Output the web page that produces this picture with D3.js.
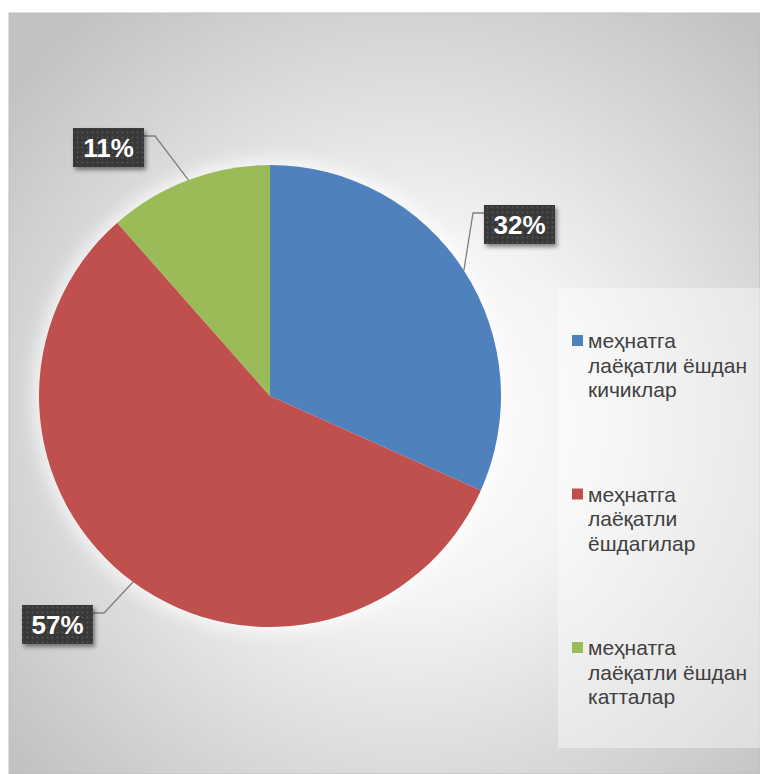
<!DOCTYPE html>
<html>
<head>
<meta charset="utf-8">
<script src="https://cdn.jsdelivr.net/npm/d3@7"></script>
<style>
  html, body { margin: 0; padding: 0; background: #ffffff; }
  svg { display: block; }
</style>
</head>
<body>
<div id="chart"></div>
<script>
// values (share of each group)
var categories = [
  ['меҳнатга', 'лаёқатли ёшдан', 'кичиклар'],
  ['меҳнатга', 'лаёқатли', 'ёшдагилар'],
  ['меҳнатга', 'лаёқатли ёшдан', 'катталар']
];
var values = [31.7, 56.8, 11.5];
var labels = ['32%', '57%', '11%'];
var colors = ['#4f81bd', '#c0504d', '#9bbb59'];

(function () {
  var W = 760, H = 774;
  var CX = 270, CY = 396, R = 231;

  var svg = d3.select('#chart').append('svg')
    .attr('width', W).attr('height', H)
    .style('font-family', '"Liberation Sans", Arial, sans-serif');

  var defs = svg.append('defs');

  var bg = defs.append('radialGradient').attr('id', 'bg')
    .attr('gradientUnits', 'userSpaceOnUse')
    .attr('cx', 410).attr('cy', 420).attr('r', 520);
  bg.append('stop').attr('offset', '0').attr('stop-color', '#ffffff');
  bg.append('stop').attr('offset', '0.35').attr('stop-color', '#f4f4f4');
  bg.append('stop').attr('offset', '1').attr('stop-color', '#c2c2c2');

  var dots = defs.append('pattern').attr('id', 'dots')
    .attr('patternUnits', 'userSpaceOnUse').attr('width', 5).attr('height', 5);
  dots.append('rect').attr('width', 5).attr('height', 5).attr('fill', '#393939');
  dots.append('circle').attr('cx', 2.5).attr('cy', 2.5).attr('r', 0.9).attr('fill', '#555555');

  var sh = defs.append('filter').attr('id', 'shadow')
    .attr('x', '-20%').attr('y', '-20%').attr('width', '150%').attr('height', '160%');
  sh.append('feDropShadow').attr('dx', 2).attr('dy', 3).attr('stdDeviation', 2)
    .attr('flood-color', '#000').attr('flood-opacity', 0.45);

  var glow = defs.append('filter').attr('id', 'glow')
    .attr('x', '-20%').attr('y', '-20%').attr('width', '140%').attr('height', '140%');
  glow.append('feGaussianBlur').attr('stdDeviation', 8);

  // chart area
  svg.append('rect')
    .attr('x', 9).attr('y', 13).attr('width', W - 9).attr('height', H - 13)
    .attr('fill', 'url(#bg)')
    .attr('stroke', '#bdbdbd').attr('stroke-width', 1);

  // soft halo behind pie
  svg.append('circle')
    .attr('cx', CX).attr('cy', CY).attr('r', R + 6)
    .attr('fill', '#ffffff').attr('opacity', 0.7)
    .attr('filter', 'url(#glow)');

  var pie = d3.pie().sort(null).value(function (d) { return d; });
  var arcs = pie(values);
  var arc = d3.arc().innerRadius(0).outerRadius(R);

  var g = svg.append('g').attr('transform', 'translate(' + CX + ',' + CY + ')');
  g.selectAll('path')
    .data(arcs)
    .join('path')
    .attr('d', arc)
    .attr('fill', function (d, i) { return colors[i]; });

  // data labels: box position and which side the leader enters
  var boxes = [
    { x: 484, y: 205, side: 'left' },
    { x: 22, y: 605, side: 'right' },
    { x: 73, y: 128, side: 'right' }
  ];
  var BW = 71, BH = 39;

  arcs.forEach(function (d, i) {
    var b = boxes[i];
    var mid = (d.startAngle + d.endAngle) / 2;
    // point on the rim where the leader meets the slice
    var ax = CX + Math.sin(mid) * R;
    var ay = CY - Math.cos(mid) * R;
    var ly = b.y + 8;
    var ex = b.side === 'left' ? b.x - 11 : b.x + BW + 11;
    var sx = b.side === 'left' ? b.x : b.x + BW;

    svg.append('polyline')
      .attr('points', [[ax, ay], [ex, ly], [sx, ly]].map(function (p) { return p.join(','); }).join(' '))
      .attr('fill', 'none')
      .attr('stroke', '#7f7f7f')
      .attr('stroke-width', 1.3);

    svg.append('rect')
      .attr('x', b.x).attr('y', b.y).attr('width', BW).attr('height', BH)
      .attr('fill', 'url(#dots)')
      .attr('filter', 'url(#shadow)');

    svg.append('text')
      .attr('x', b.x + BW / 2).attr('y', b.y + BH / 2 + 9)
      .attr('text-anchor', 'middle')
      .attr('fill', '#ffffff')
      .attr('font-weight', 'bold')
      .attr('font-size', 26)
      .text(labels[i]);
  });

  // legend
  svg.append('rect')
    .attr('x', 558).attr('y', 288).attr('width', W - 558).attr('height', 460)
    .attr('fill', '#ffffff').attr('opacity', 0.4);

  var legY = d3.scaleLinear().domain([0, 2]).range([348, 655]);
  var leg = svg.append('g').selectAll('g')
    .data(categories)
    .join('g')
    .attr('transform', function (d, i) { return 'translate(572,' + legY(i) + ')'; });

  leg.append('rect')
    .attr('x', 0).attr('y', -13).attr('width', 11).attr('height', 11)
    .attr('fill', function (d, i) { return colors[i]; });

  leg.append('text')
    .attr('fill', '#404040')
    .attr('font-size', 21)
    .selectAll('tspan')
    .data(function (d) { return d; })
    .join('tspan')
    .attr('x', 16)
    .attr('y', function (d, j) { return j * 24.5; })
    .text(function (d) { return d; });
})();
</script>
</body>
</html>
